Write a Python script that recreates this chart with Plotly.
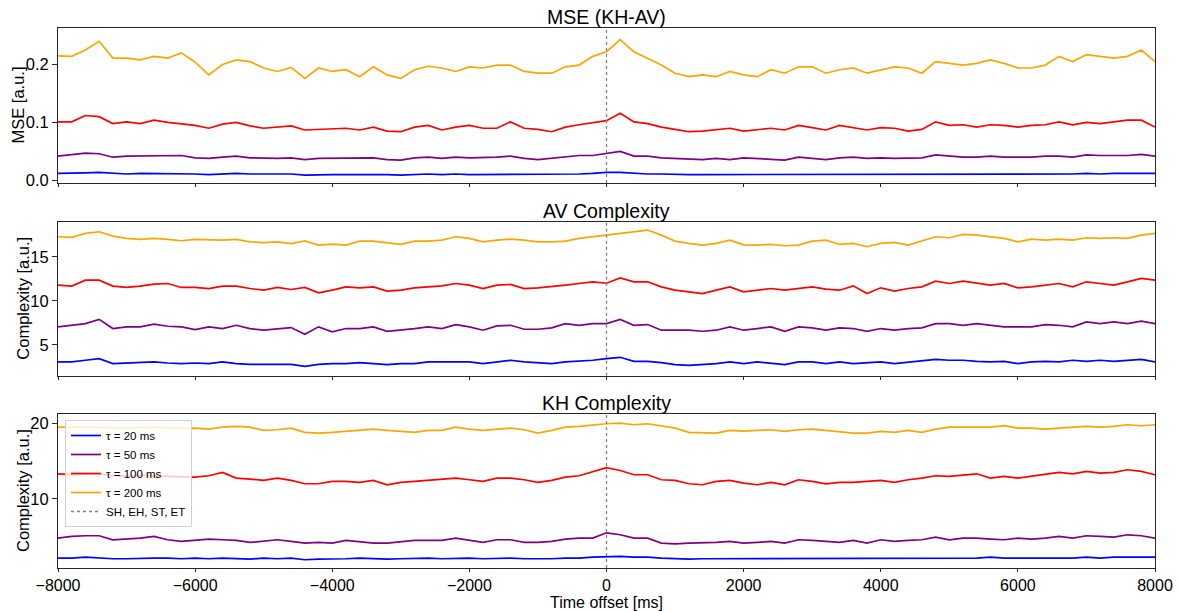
import plotly.graph_objects as go

# ---------------- data ----------------
TIME_MS = list(range(-8000, 8001, 200))          # sampling grid, 81 points
EVENT_MS = [0]                                    # SH, EH, ST, ET marker
X_TICKS = [-8000, -6000, -4000, -2000, 0, 2000, 4000, 6000, 8000]
TAU_LABELS = ["τ = 20 ms", "τ = 50 ms", "τ = 100 ms", "τ = 200 ms"]
EVENT_LABEL = "SH, EH, ST, ET"
PANEL_TITLES = ["MSE (KH-AV)", "AV Complexity", "KH Complexity"]
Y_LABELS = ["MSE [a.u.]", "Complexity [a.u.]", "Complexity [a.u.]"]
X_LABEL = "Time offset [ms]"

MSE_TAU20 = [0.012, 0.012, 0.013, 0.014, 0.012, 0.011, 0.012, 0.012, 0.011, 0.012, 0.011, 0.010, 0.011, 0.012, 0.011, 0.011, 0.010, 0.011, 0.009, 0.010, 0.010,
             0.010, 0.010, 0.011, 0.010, 0.009, 0.010, 0.011, 0.010, 0.011, 0.010, 0.010, 0.011, 0.011, 0.010, 0.010, 0.010, 0.011, 0.011, 0.012, 0.014,
             0.014, 0.012, 0.011, 0.011, 0.010, 0.010, 0.010, 0.010, 0.010, 0.010, 0.010, 0.010, 0.010, 0.011, 0.010, 0.010, 0.010, 0.011, 0.010, 0.010,
             0.010, 0.010, 0.010, 0.011, 0.011, 0.010, 0.010, 0.011, 0.010, 0.011, 0.011, 0.011, 0.011, 0.011, 0.012, 0.011, 0.012, 0.012, 0.012, 0.012]
MSE_TAU50 = [0.042, 0.044, 0.047, 0.046, 0.040, 0.042, 0.042, 0.043, 0.042, 0.043, 0.039, 0.038, 0.040, 0.042, 0.039, 0.038, 0.038, 0.039, 0.036, 0.038, 0.038,
             0.038, 0.039, 0.039, 0.036, 0.035, 0.039, 0.040, 0.038, 0.040, 0.039, 0.039, 0.040, 0.042, 0.038, 0.036, 0.038, 0.040, 0.043, 0.043, 0.046,
             0.050, 0.042, 0.042, 0.039, 0.038, 0.036, 0.036, 0.038, 0.036, 0.039, 0.038, 0.036, 0.035, 0.040, 0.038, 0.036, 0.039, 0.040, 0.038, 0.039,
             0.038, 0.038, 0.039, 0.044, 0.042, 0.040, 0.040, 0.042, 0.040, 0.040, 0.040, 0.042, 0.042, 0.040, 0.044, 0.043, 0.043, 0.043, 0.045, 0.042]
MSE_TAU100 = [0.101, 0.101, 0.112, 0.110, 0.098, 0.101, 0.098, 0.104, 0.100, 0.098, 0.095, 0.090, 0.097, 0.100, 0.094, 0.090, 0.092, 0.094, 0.087, 0.088, 0.090,
              0.090, 0.087, 0.092, 0.085, 0.084, 0.092, 0.095, 0.087, 0.092, 0.095, 0.090, 0.090, 0.101, 0.090, 0.088, 0.084, 0.092, 0.096, 0.100, 0.103,
              0.116, 0.101, 0.098, 0.092, 0.088, 0.084, 0.085, 0.087, 0.090, 0.085, 0.088, 0.090, 0.087, 0.095, 0.091, 0.087, 0.095, 0.091, 0.087, 0.091,
              0.090, 0.085, 0.088, 0.101, 0.095, 0.096, 0.092, 0.096, 0.095, 0.092, 0.095, 0.096, 0.101, 0.096, 0.100, 0.098, 0.101, 0.104, 0.104, 0.092]
MSE_TAU200 = [0.215, 0.214, 0.225, 0.240, 0.211, 0.211, 0.208, 0.214, 0.211, 0.220, 0.204, 0.182, 0.200, 0.208, 0.205, 0.194, 0.188, 0.195, 0.176, 0.194, 0.188,
              0.191, 0.179, 0.196, 0.182, 0.176, 0.191, 0.197, 0.194, 0.188, 0.196, 0.194, 0.199, 0.199, 0.188, 0.185, 0.185, 0.196, 0.199, 0.214, 0.222,
              0.243, 0.222, 0.211, 0.199, 0.185, 0.179, 0.182, 0.179, 0.188, 0.182, 0.179, 0.191, 0.185, 0.196, 0.196, 0.185, 0.191, 0.194, 0.185, 0.191,
              0.196, 0.194, 0.185, 0.205, 0.202, 0.199, 0.202, 0.208, 0.202, 0.194, 0.194, 0.199, 0.214, 0.205, 0.217, 0.214, 0.211, 0.214, 0.225, 0.205]

AV_TAU20 = [3.07, 3.07, 3.26, 3.45, 2.88, 2.95, 2.95, 3.07, 2.95, 2.88, 2.95, 2.88, 3.07, 2.88, 2.80, 2.80, 2.88, 2.80, 2.58, 2.80, 2.88,
            2.88, 3.00, 2.88, 2.77, 2.88, 2.88, 3.07, 3.07, 3.14, 3.07, 2.88, 3.07, 3.26, 3.07, 3.00, 2.88, 3.07, 3.14, 3.26, 3.45,
            3.60, 3.14, 3.14, 3.00, 2.77, 2.69, 2.77, 2.88, 3.07, 2.88,
            3.07, 2.88, 2.77, 3.07, 3.07, 2.88, 3.07, 2.88, 3.00, 3.07, 2.88, 3.07, 3.26, 3.37, 3.26, 3.26, 3.14, 3.07, 3.14, 2.88,
            3.07, 3.14, 3.07, 3.26, 3.14, 3.26, 3.14, 3.26, 3.37, 3.07]
AV_TAU50 = [7.05, 7.23, 7.42, 7.90, 6.86, 7.05, 7.05, 7.35, 7.12, 7.05, 6.74, 7.05, 6.86, 7.23, 6.86, 6.67, 6.86, 6.97, 6.20, 7.05, 6.48,
            6.86, 6.86, 7.05, 6.55, 6.67, 6.86, 7.05, 6.86, 7.31, 7.05, 6.67, 7.16, 7.23, 6.78, 6.78, 6.93, 7.42, 7.23, 7.42, 7.42,
            7.90, 7.23, 7.31, 6.67, 6.67, 6.67, 6.55, 6.67, 7.05, 6.67,
            6.86, 7.05, 6.55, 7.05, 6.93, 6.67, 6.93, 6.86, 6.55, 6.86, 6.67, 6.86, 6.93, 7.42, 7.42, 7.23, 7.42, 7.23, 7.05, 7.05,
            7.05, 7.31, 7.23, 7.05, 7.61, 7.42, 7.61, 7.42, 7.69, 7.42]
AV_TAU100 = [11.78, 11.67, 12.35, 12.35, 11.67, 11.52, 11.67, 11.90, 11.97, 11.52, 11.52, 11.40, 11.67, 11.67, 11.40, 11.21, 11.52, 11.29, 11.52, 10.91, 11.21,
             11.59, 11.48, 11.59, 11.10, 11.21, 11.48, 11.59, 11.70, 11.97, 11.78, 11.40, 11.78, 11.86, 11.40, 11.48, 11.59, 11.78, 11.97, 12.16, 12.00,
             12.60, 12.16, 12.16, 11.59, 11.21, 11.02, 10.83, 11.21, 11.59, 11.02,
             11.21, 11.40, 11.21, 11.40, 11.59, 11.33, 11.21, 11.70, 10.83, 11.48, 11.10, 11.40, 11.59, 12.23, 11.97, 12.23, 11.97, 11.78, 11.97, 11.48,
             11.59, 11.78, 11.97, 11.59, 12.16, 11.97, 11.78, 12.16, 12.54, 12.35]
AV_TAU200 = [17.27, 17.20, 17.65, 17.84, 17.35, 17.08, 16.97, 17.08, 16.97, 16.82, 16.97, 16.90, 16.90, 16.97, 16.70, 16.60, 16.70, 16.50, 16.80, 16.33, 16.44,
             16.33, 16.78, 16.78, 16.63, 16.40, 16.78, 16.78, 16.89, 17.27, 17.08, 16.70, 16.89, 17.00, 16.89, 16.70, 16.70, 16.78, 17.08, 17.27, 17.39,
             17.65, 17.84, 18.03, 17.46, 16.78, 16.52, 16.33, 16.52, 16.89, 16.35,
             16.33, 16.40, 16.25, 16.33, 16.78, 16.89, 16.40, 16.52, 16.14, 16.52, 16.63, 16.33, 16.78, 17.27, 17.16, 17.54, 17.46, 17.27, 17.08, 16.70,
             17.00, 16.89, 17.00, 16.89, 17.16, 17.08, 17.16, 17.08, 17.46, 17.65]

KH_TAU20 = [2.16, 2.16, 2.29, 2.16, 2.07, 2.07, 2.16, 2.16, 2.16, 2.07, 2.16, 2.07, 2.16, 2.07, 2.03, 2.16, 2.07, 2.16, 1.94, 2.03, 2.03,
            2.07, 2.16, 2.07, 2.03, 2.07, 2.16, 2.16, 2.07, 2.16, 2.16, 2.07, 2.16, 2.16, 2.07, 2.03, 2.07, 2.16, 2.16, 2.29, 2.38,
            2.38, 2.29, 2.29, 2.16, 2.07, 2.03, 2.07, 2.07, 2.16, 2.07, 2.16, 2.07, 2.16, 2.07, 2.16, 2.16, 2.07, 2.07, 2.16, 2.16,
            2.16, 2.16, 2.07, 2.16, 2.16, 2.16, 2.16, 2.29, 2.16, 2.16, 2.16, 2.16, 2.16, 2.16, 2.29, 2.16, 2.29, 2.29, 2.29, 2.29]
KH_TAU50 = [4.80, 5.02, 5.11, 5.11, 4.58, 4.67, 4.80, 5.02, 4.58, 4.36, 4.49, 4.67, 4.58, 4.49, 4.23, 4.36, 4.58, 4.36, 4.14, 4.23, 4.14,
            4.49, 4.36, 4.14, 4.14, 4.36, 4.49, 4.49, 4.49, 4.80, 4.49, 4.23, 4.58, 4.58, 4.23, 4.23, 4.36, 4.67, 4.80, 4.80, 5.50,
            5.24, 4.80, 4.80, 4.14, 4.05, 4.14, 4.14, 4.23, 4.36, 4.14,
            4.23, 4.36, 4.14, 4.58, 4.49, 4.36, 4.23, 4.49, 4.14, 4.58, 4.36, 4.49, 4.58, 4.93, 4.58, 4.80, 4.80, 4.67, 4.58, 4.80,
            4.67, 4.80, 5.02, 4.80, 5.11, 5.02, 4.93, 5.24, 5.11, 4.80]
KH_TAU100 = [13.30, 13.20, 13.25, 13.30, 13.10, 13.00, 13.10, 13.00, 12.95, 12.90, 12.86, 13.04, 13.48, 12.73, 12.60, 12.42, 12.73, 12.42, 11.98, 11.98, 12.29,
             12.29, 12.16, 12.42, 11.85, 12.16, 12.29, 12.42, 12.51, 12.73, 12.51, 12.29, 12.73, 12.73, 12.51, 12.16, 12.42, 12.86, 13.04, 13.61, 14.10,
             13.74, 13.17, 13.17, 12.51, 12.42, 11.98, 11.85, 12.29, 12.42, 12.07,
             11.85, 12.16, 11.85, 12.51, 12.29, 11.98, 12.16, 12.16, 12.29, 12.42, 12.16, 12.51, 12.73, 13.04, 12.95, 13.17, 13.30, 12.73, 12.95, 12.73,
             12.95, 13.17, 13.48, 13.30, 13.61, 13.39, 13.48, 13.83, 13.61, 13.17]
KH_TAU200 = [19.47, 19.45, 19.50, 19.50, 19.40, 19.35, 19.40, 19.45, 19.40, 19.30, 19.34, 19.20, 19.47, 19.56, 19.47, 19.03, 19.12, 19.34, 18.77, 18.68, 18.77,
             18.90, 19.03, 19.20, 19.03, 18.90, 18.77, 19.03, 19.03, 19.47, 19.20, 19.03, 19.20, 19.34, 19.12, 18.68, 19.03, 19.47, 19.56, 19.78, 19.91,
             20.00, 19.78, 19.91, 19.65, 19.34, 18.77, 18.68, 18.68, 19.03, 18.95,
             19.03, 19.12, 18.90, 19.12, 19.20, 19.03, 18.77, 18.68, 18.68, 18.90, 18.77, 19.03, 18.77, 19.20, 19.47, 19.47, 19.56, 19.47, 19.65, 19.34,
             19.34, 19.20, 19.34, 19.47, 19.56, 19.47, 19.56, 19.78, 19.65, 19.78]

PANELS = [
    [MSE_TAU20, MSE_TAU50, MSE_TAU100, MSE_TAU200],
    [AV_TAU20, AV_TAU50, AV_TAU100, AV_TAU200],
    [KH_TAU20, KH_TAU50, KH_TAU100, KH_TAU200],
]

# ---------------- styling ----------------
COLORS = ["blue", "purple", "red", "orange"]
W, H = 1180, 611
L, R, T, B = 58, 1155, 28, 568
PANEL_PX = [(28, 183), (221.7, 375.7), (414, 568)]
Y_RANGES = [[-0.0045, 0.263], [1.51, 18.98], [0.85, 21.2]]
Y_TICKS = [[0.0, 0.1, 0.2], [5, 10, 15], [10, 20]]
Y_FMT = [".1f", "d", "d"]
FONT = "Liberation Sans, Arial, sans-serif"
AXC = "#262626"


def clamp(v):
    return min(1.0, max(0.0, v))


def paper_y(py):
    return 1 - (py - T) / (B - T)


def paper_x(px):
    return (px - L) / (R - L)


fig = go.Figure()
for p, series in enumerate(PANELS):
    sfx = "" if p == 0 else str(p + 1)
    for k, vals in enumerate(series):
        fig.add_trace(go.Scatter(
            x=TIME_MS, y=vals, mode="lines",
            line=dict(color=COLORS[k], width=1.7),
            name=TAU_LABELS[k], showlegend=(p == 2), hoverinfo="skip",
            xaxis="x" + sfx, yaxis="y" + sfx,
        ))
    for ev in EVENT_MS:
        fig.add_shape(type="line", x0=ev, x1=ev, y0=0, y1=1,
                      xref="x" + sfx, yref="y" + sfx + " domain",
                      line=dict(color="gray", width=1.3, dash="dot"))

# legend entry for the dotted event line
fig.add_trace(go.Scatter(x=[None], y=[None], mode="lines",
                         line=dict(color="gray", width=1.3, dash="dot"),
                         name=EVENT_LABEL, xaxis="x3", yaxis="y3"))

layout = dict(
    width=W, height=H,
    margin=dict(l=L, r=W - R, t=T, b=H - B, autoexpand=False),
    paper_bgcolor="white", plot_bgcolor="white",
    font=dict(family=FONT, size=16.5, color="black"),
    showlegend=True, hovermode=False,
    legend=dict(x=paper_x(65), y=paper_y(420), xanchor="left", yanchor="top",
                bgcolor="rgba(255,255,255,0.8)", bordercolor="#d0d0d0", borderwidth=1,
                font=dict(size=11.5, family=FONT), itemwidth=30, tracegroupgap=0),
)

annotations = []
for p in range(3):
    sfx = "" if p == 0 else str(p + 1)
    top, bot = PANEL_PX[p]
    xa = dict(
        domain=[0, 1], range=[-8000, 8000], anchor="y" + sfx, automargin=False,
        tickvals=X_TICKS, showticklabels=(p == 2),
        ticks="outside", ticklen=3, tickwidth=1, tickcolor=AXC,
        showline=True, mirror=True, linecolor=AXC, linewidth=1,
        showgrid=False, zeroline=False,
        tickfont=dict(size=16),
    )
    if p != 2:
        xa["matches"] = "x3"
    layout["xaxis" + sfx] = xa
    layout["yaxis" + sfx] = dict(
        domain=[clamp(paper_y(bot)), clamp(paper_y(top))], range=Y_RANGES[p],
        anchor="x" + sfx, automargin=False,
        tickvals=Y_TICKS[p], tickformat=Y_FMT[p],
        ticks="outside", ticklen=5, tickwidth=1, tickcolor=AXC,
        showline=True, mirror=True, linecolor=AXC, linewidth=1,
        showgrid=False, zeroline=False, tickfont=dict(size=16.5),
    )
    annotations.append(dict(
        text=PANEL_TITLES[p], xref="paper", yref="paper", x=0.5, y=clamp(paper_y(top)),
        xanchor="center", yanchor="bottom", yshift=-2, showarrow=False,
        font=dict(size=19.5, family=FONT)))
    annotations.append(dict(
        text=Y_LABELS[p], xref="paper", yref="paper",
        x=paper_x(18 if p == 0 else 23), y=paper_y((top + bot) / 2),
        xanchor="center", yanchor="middle", textangle=-90, showarrow=False,
        font=dict(size=16.5, family=FONT)))

annotations.append(dict(
    text=X_LABEL, xref="paper", yref="paper", x=0.5, y=paper_y(602),
    xanchor="center", yanchor="middle", showarrow=False,
    font=dict(size=16, family=FONT)))

layout["annotations"] = annotations
fig.update_layout(**layout)
fig.write_html("out.html", config={"displayModeBar": False},
               post_script="document.body.style.margin='0';document.body.style.overflow='hidden';")
